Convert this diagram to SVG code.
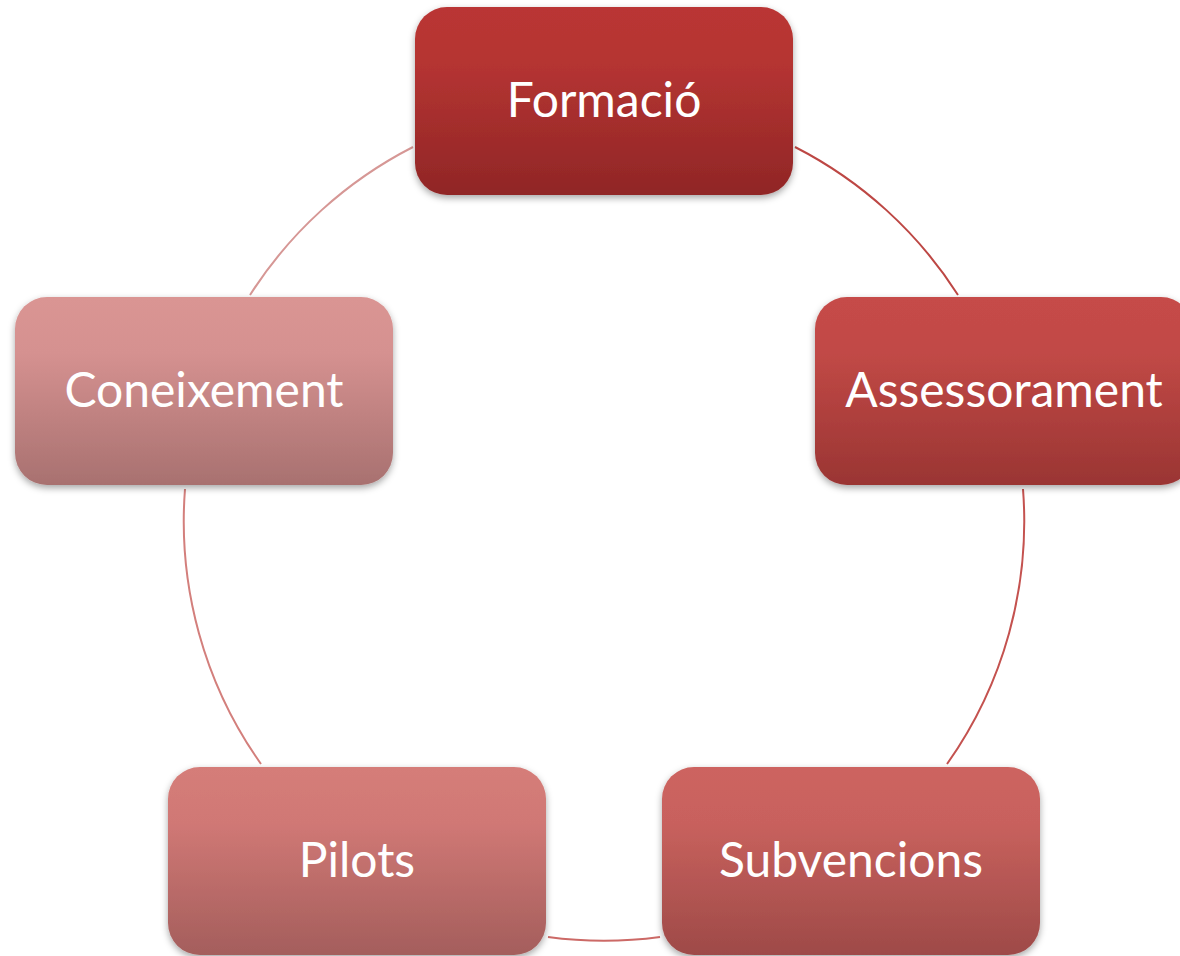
<svg xmlns="http://www.w3.org/2000/svg" width="1180" height="956" viewBox="0 0 1180 956">
<defs>
<filter id="sh" x="-10%" y="-10%" width="120%" height="130%">
<feDropShadow dx="0" dy="3" stdDeviation="3.5" flood-color="#000" flood-opacity="0.35"/>
</filter>
<linearGradient id="g1" x1="0" y1="0" x2="0" y2="1"><stop offset="0" stop-color="#ba3634"/><stop offset="0.3" stop-color="#b53432"/><stop offset="1" stop-color="#902626"/></linearGradient>
<linearGradient id="g2" x1="0" y1="0" x2="0" y2="1"><stop offset="0" stop-color="#c64b48"/><stop offset="0.3" stop-color="#c14946"/><stop offset="1" stop-color="#9a3533"/></linearGradient>
<linearGradient id="g3" x1="0" y1="0" x2="0" y2="1"><stop offset="0" stop-color="#cd6460"/><stop offset="0.3" stop-color="#c8615d"/><stop offset="1" stop-color="#9e4a48"/></linearGradient>
<linearGradient id="g4" x1="0" y1="0" x2="0" y2="1"><stop offset="0" stop-color="#d57d79"/><stop offset="0.3" stop-color="#d07875"/><stop offset="1" stop-color="#a45e5c"/></linearGradient>
<linearGradient id="g5" x1="0" y1="0" x2="0" y2="1"><stop offset="0" stop-color="#da9593"/><stop offset="0.3" stop-color="#d59190"/><stop offset="1" stop-color="#a87170"/></linearGradient>
</defs>
<style>
.box{filter:url(#sh);}
.lbl{font-family:Lato,"Liberation Sans",sans-serif;font-size:48px;fill:#fff;text-anchor:middle;}
.arc{fill:none;stroke-width:2;}
</style>
<g id="connectors">
<path class="arc" stroke="#bd4744" d="M795,147 A420,420 0 0 1 958,295"/>
<path class="arc" stroke="#c4524f" d="M1023,489 A420,420 0 0 1 947,764"/>
<path class="arc" stroke="#cc6966" d="M660,937 A420,420 0 0 1 548,937"/>
<path class="arc" stroke="#d37f7c" d="M261,764 A420,420 0 0 1 185,489"/>
<path class="arc" stroke="#d69795" d="M250,295 A420,420 0 0 1 413,147"/>
</g>
<g id="formacio">
<rect class="box" x="415" y="7" width="378" height="188" rx="32" fill="url(#g1)"/>
<text class="lbl" x="604" y="117">Formació</text>
</g>
<g id="assessorament">
<rect class="box" x="815" y="297" width="378" height="188" rx="32" fill="url(#g2)"/>
<text class="lbl" x="1004" y="407">Assessorament</text>
</g>
<g id="subvencions">
<rect class="box" x="662" y="767" width="378" height="188" rx="32" fill="url(#g3)"/>
<text class="lbl" x="851" y="877">Subvencions</text>
</g>
<g id="pilots">
<rect class="box" x="168" y="767" width="378" height="188" rx="32" fill="url(#g4)"/>
<text class="lbl" x="357" y="877">Pilots</text>
</g>
<g id="coneixement">
<rect class="box" x="15" y="297" width="378" height="188" rx="32" fill="url(#g5)"/>
<text class="lbl" x="204" y="407">Coneixement</text>
</g>
</svg>
